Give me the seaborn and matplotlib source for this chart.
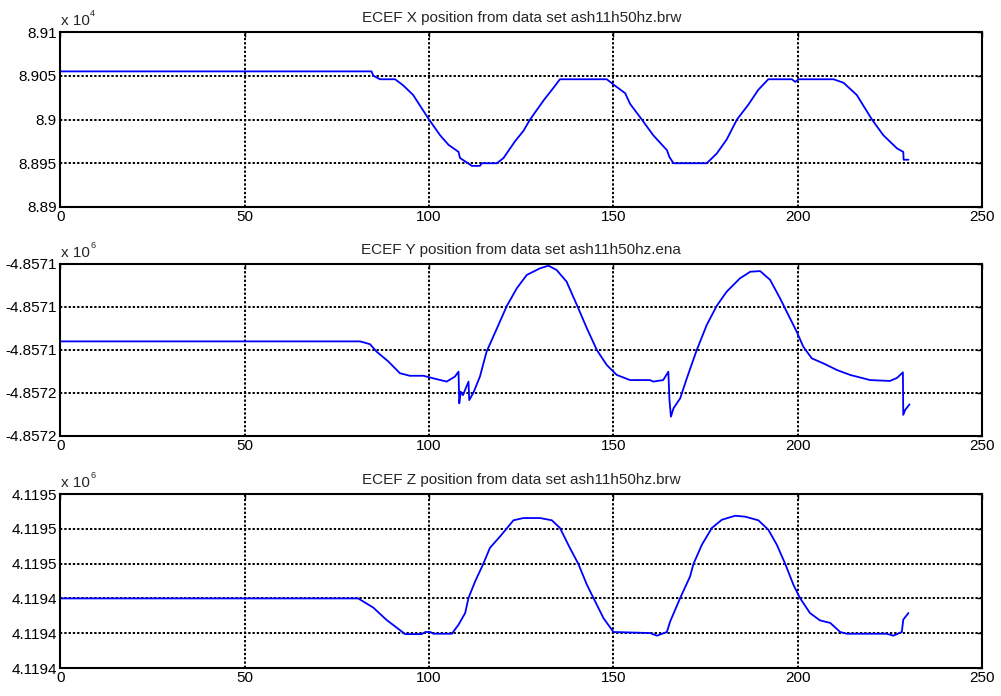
import matplotlib
matplotlib.use("Agg")
import matplotlib.pyplot as plt
import seaborn as sns

# ECEF positions (metres vs. time index)
x_time = [0, 84.4, 84.9, 86.7, 90.8, 93.0, 95.7, 98.0, 100, 103, 105.3, 108, 108.4,
          110.2, 111.6, 113.8, 114.3, 118.4, 120.2, 123.3, 125.6, 127.4, 131.1, 133.7,
          135.5, 148.2, 150, 153.2, 154.5, 157.7, 160.8, 164.5, 165.2, 166.3, 175.3,
          178, 180.7, 183.5, 186.6, 189.3, 192, 198.4, 199.3, 200.2, 209.7, 212.4,
          216, 220.1, 223.2, 226.9, 228.6, 228.7, 230]
x_pos = [89055, 89055, 89050, 89046, 89046, 89039, 89028, 89013, 89000, 88982, 88971,
         88963, 88956, 88951, 88947, 88947, 88950, 88950, 88956, 88975, 88987, 89000,
         89022, 89036, 89046, 89046, 89040, 89030, 89018, 89000, 88982, 88965, 88957,
         88950, 88950, 88961, 88977, 89000, 89017, 89034, 89046, 89046, 89043, 89046,
         89046, 89042, 89028, 89000, 88982, 88967, 88963, 88954, 88954]

y_time = [0, 81.3, 84, 85.8, 89, 92.1, 94.8, 98.5, 101.2, 104.8, 107, 108, 108.2,
          108.6, 109.2, 110.7, 110.9, 112, 113.8, 115.6, 118.4, 121.1, 123.8, 126.5,
          130.1, 132.4, 134.6, 137.3, 140.1, 142.8, 145.5, 148.2, 150.9, 154.5, 159.9,
          160.8, 163.5, 164.9, 165.2, 165.6, 166.3, 168.1, 169.9, 172.6, 175.3, 178,
          180.7, 184.3, 187.1, 189.8, 192.5, 195.2, 197.9, 199.7, 201.5, 203.8, 206.9,
          210.6, 214.2, 219.6, 225, 226.9, 228.5, 228.6, 229.1, 230.3]
y_pos = [-4857136, -4857136, -4857137.3, -4857140.8, -4857145.4, -4857150.8, -4857152,
         -4857152, -4857153.2, -4857154.7, -4857152.4, -4857150.1, -4857164.8,
         -4857159.4, -4857161, -4857154.7, -4857163.3, -4857160, -4857152.4,
         -4857140.8, -4857130, -4857119.5, -4857111.3, -4857105.1, -4857102,
         -4857100.8, -4857102.8, -4857108.2, -4857119.1, -4857129.9, -4857140,
         -4857147, -4857151.6, -4857154, -4857154, -4857154.7, -4857154, -4857150.1,
         -4857163.3, -4857171, -4857167.1, -4857162.5, -4857153.2, -4857140,
         -4857128.4, -4857119.5, -4857112.9, -4857106.7, -4857103.6, -4857103.3,
         -4857107.4, -4857116, -4857125.3, -4857131.5, -4857138.5, -4857143.9,
         -4857146.2, -4857149.3, -4857151.6, -4857154, -4857154.4, -4857153,
         -4857150.4, -4857170.2, -4857167.9, -4857165.3]

z_time = [0, 80.8, 84.9, 88.5, 92.1, 93.5, 98, 99, 100.3, 101.2, 106.2, 108, 109.8,
          110.7, 112.5, 114.7, 116.5, 119.3, 122.9, 125.6, 130.1, 133.3, 135.5, 138.2,
          140.5, 142.8, 144.6, 147.3, 150, 159.9, 161.8, 164.5, 165.4, 168.1, 170.8,
          171.7, 174, 176.7, 179.4, 183, 185.7, 189.3, 192, 194.3, 196.6, 198.8, 200.6,
          203.3, 206, 208.8, 211.5, 213.3, 224.1, 225.9, 228.2, 228.6, 230]
z_pos = [4119440, 4119440, 4119434.7, 4119427.6, 4119421.8, 4119419.5, 4119419.5,
         4119420.7, 4119420.7, 4119419.7, 4119419.7, 4119424.9, 4119431.6, 4119440.2,
         4119449.8, 4119459.8, 4119469, 4119475.7, 4119484.9, 4119486.2, 4119486.2,
         4119484.9, 4119480.5, 4119469, 4119459.8, 4119447.9, 4119440.2, 4119428.7,
         4119420.7, 4119420.1, 4119418.6, 4119420.7, 4119426.8, 4119440.2, 4119452.7,
         4119459.8, 4119470.9, 4119480.5, 4119485.2, 4119487.5, 4119487, 4119484.9,
         4119479.5, 4119470.9, 4119459.8, 4119447.9, 4119440.2, 4119431.6, 4119427.4,
         4119425.9, 4119420.7, 4119419.7, 4119419.7, 4119418.6, 4119420.7, 4119427.8,
         4119431.6]

x_ticks = [0, 50, 100, 150, 200, 250]
x_yticks = [88900, 88950, 89000, 89050, 89100]
y_yticks = [-4857180, -4857160, -4857140, -4857120, -4857100]
z_yticks = [4119400, 4119420, 4119440, 4119460, 4119480, 4119500]

titles = ["ECEF X position from data set ash11h50hz.brw",
          "ECEF Y position from data set ash11h50hz.ena",
          "ECEF Z position from data set ash11h50hz.brw"]

sns.set_style("white")
plt.rcParams['font.family'] = ['Liberation Sans', 'DejaVu Sans']
fs = 11

fig = plt.figure(figsize=(10.01, 6.96), dpi=100)
boxes = [[0.0602, 0.7026, 0.921, 0.2514],
         [0.0602, 0.3736, 0.921, 0.2471],
         [0.0602, 0.0402, 0.921, 0.2500]]

panels = [(x_time, x_pos, x_yticks, 1e4, "4", lambda v: "%g" % v),
          (y_time, y_pos, y_yticks, 1e6, "6", lambda v: "%.4f" % v),
          (z_time, z_pos, z_yticks, 1e6, "6", lambda v: "%.4f" % v)]

for box, title, (t, p, yt, scale, expo, fmt) in zip(boxes, titles, panels):
    ax = fig.add_axes(box)
    sns.lineplot(x=t, y=p, ax=ax, color='#0000ff', linewidth=1.3, estimator=None)
    ax.set_xlim(0, 250)
    ax.set_ylim(yt[0], yt[-1])
    ax.set_xticks(x_ticks)
    ax.set_xticklabels([str(v) for v in x_ticks])
    ax.set_yticks(yt)
    ax.set_yticklabels([fmt(v / scale) for v in yt])
    ax.grid(True, color='black', linestyle=(0, (1.2, 1.0)), linewidth=1.4)
    ax.tick_params(direction='in', top=True, right=True, length=3.5, width=1,
                   labelsize=fs, pad=2.5, colors='black')
    for s in ax.spines.values():
        s.set_visible(True)
        s.set_color('black')
        s.set_linewidth(1.5)
    ax.set_title(title, fontsize=fs, pad=7)
    ax.annotate("x 10", xy=(0, 1), xycoords='axes fraction', xytext=(0.5, 5),
                textcoords='offset points', ha='left', va='baseline', fontsize=fs)
    ax.annotate(expo, xy=(0, 1), xycoords='axes fraction', xytext=(21.5, 11.5),
                textcoords='offset points', ha='left', va='baseline', fontsize=6.5)

fig.savefig("out.png", dpi=100)
